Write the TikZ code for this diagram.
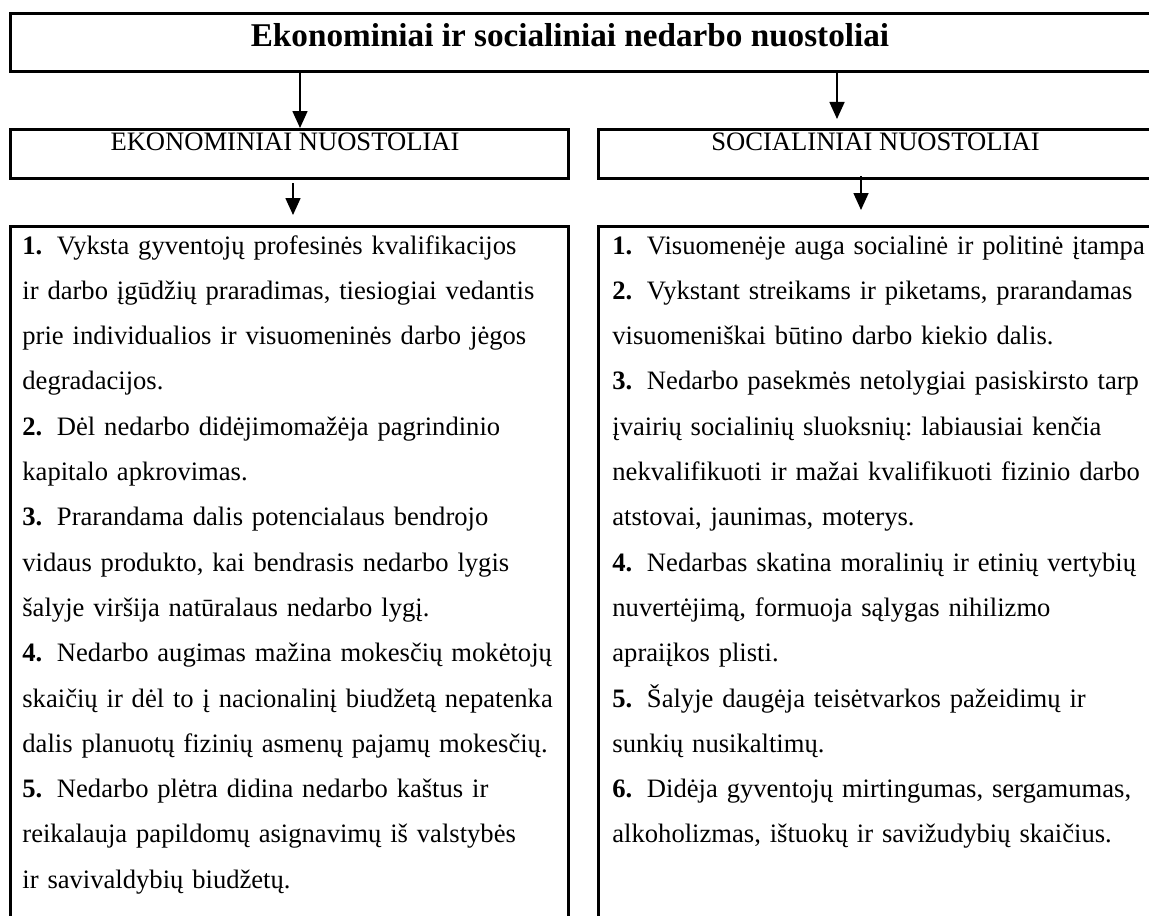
\documentclass[tikz,border=0pt]{standalone}
\usepackage{fontspec}
\setmainfont{Liberation Serif}
\usetikzlibrary{arrows.meta, positioning}

\tikzset{
  box/.style={draw, line width=1.5pt, rectangle, inner sep=0pt},
  arr/.style={line width=0.8pt, -{Triangle[length=8.5pt,width=7.5pt]}},
  txt/.style={font=\fontsize{13.3}{22.65}\selectfont, inner sep=0pt},
  items/.style={txt, align=left, text width=275pt, anchor=base west},
}
\newcommand{\nr}[1]{\textbf{#1.}\hspace{0.55em}}
\frenchspacing

\begin{document}
\begin{tikzpicture}[x=0.5pt, y=-0.5pt]

    % Page frame
    \useasboundingbox (0,0) rectangle (1149,915);
    \clip (0,0) rectangle (1149,915);

    % Coordinates for the arrows
    \coordinate (a1) at (300,0);    % title -> ekonominiai
    \coordinate (a2) at (837,0);    % title -> socialiniai
    \coordinate (a3) at (293,0);    % ekonominiai -> list
    \coordinate (a4) at (861,0);    % socialiniai -> list

    % Draw the boxes
    \node[box, anchor=north west, minimum width=600pt, minimum height=29pt] (title) at (9,12) {};
    \node[box, anchor=north west, minimum width=279pt, minimum height=24.5pt] (ekon) at (9,128) {};
    \node[box, anchor=north west, minimum width=300pt, minimum height=24.5pt] (soc) at (597,128) {};
    \node[box, anchor=north west, minimum width=279pt, minimum height=400pt] (ekonlist) at (9,225) {};
    \node[box, anchor=north west, minimum width=300pt, minimum height=400pt] (soclist) at (597,225) {};

    % Headings
    \node[inner sep=0pt, anchor=base, font=\fontsize{16.6}{20}\selectfont\bfseries] (titletxt) at (570,47)
        {Ekonominiai ir socialiniai nedarbo nuostoliai};
    \node[txt, anchor=base] (ekontxt) at (285,150) {EKONOMINIAI NUOSTOLIAI};
    \node[txt, anchor=base] (soctxt) at (875.5,150) {SOCIALINIAI NUOSTOLIAI};

    % Lists
    \node[items] (ekonitems) at (22,254) {%
        \nr{1}Vyksta gyventojų profesinės kvalifikacijos\\
        ir darbo įgūdžių praradimas, tiesiogiai vedantis\\
        prie individualios ir visuomeninės darbo jėgos\\
        degradacijos.\\
        \nr{2}Dėl nedarbo didėjimomažėja pagrindinio\\
        kapitalo apkrovimas.\\
        \nr{3}Prarandama dalis potencialaus bendrojo\\
        vidaus produkto, kai bendrasis nedarbo lygis\\
        šalyje viršija natūralaus nedarbo lygį.\\
        \nr{4}Nedarbo augimas mažina mokesčių mokėtojų\\
        skaičių ir dėl to į nacionalinį biudžetą nepatenka\\
        dalis planuotų fizinių asmenų pajamų mokesčių.\\
        \nr{5}Nedarbo plėtra didina nedarbo kaštus ir\\
        reikalauja papildomų asignavimų iš valstybės\\
        ir savivaldybių biudžetų.};
    \node[items] (socitems) at (612,254) {%
        \nr{1}Visuomenėje auga socialinė ir politinė įtampa\\
        \nr{2}Vykstant streikams ir piketams, prarandamas\\
        visuomeniškai būtino darbo kiekio dalis.\\
        \nr{3}Nedarbo pasekmės netolygiai pasiskirsto tarp\\
        įvairių socialinių sluoksnių: labiausiai kenčia\\
        nekvalifikuoti ir mažai kvalifikuoti fizinio darbo\\
        atstovai, jaunimas, moterys.\\
        \nr{4}Nedarbas skatina moralinių ir etinių vertybių\\
        nuvertėjimą, formuoja sąlygas nihilizmo\\
        apraiįkos plisti.\\
        \nr{5}Šalyje daugėja teisėtvarkos pažeidimų ir\\
        sunkių nusikaltimų.\\
        \nr{6}Didėja gyventojų mirtingumas, sergamumas,\\
        alkoholizmas, ištuokų ir savižudybių skaičius.};

    % Draw the arrows
    \draw[arr] (title.south -| a1) -- (ekon.north -| a1);
    \draw[arr] (title.south -| a2) -- ([yshift=4.5pt]soc.north -| a2);
    \draw[arr] ([yshift=-1.5pt]ekon.south -| a3) -- ([yshift=5pt]ekonlist.north -| a3);
    \draw[arr] ([yshift=2pt]soc.south -| a4) -- ([yshift=7.5pt]soclist.north -| a4);

\end{tikzpicture}
\end{document}
